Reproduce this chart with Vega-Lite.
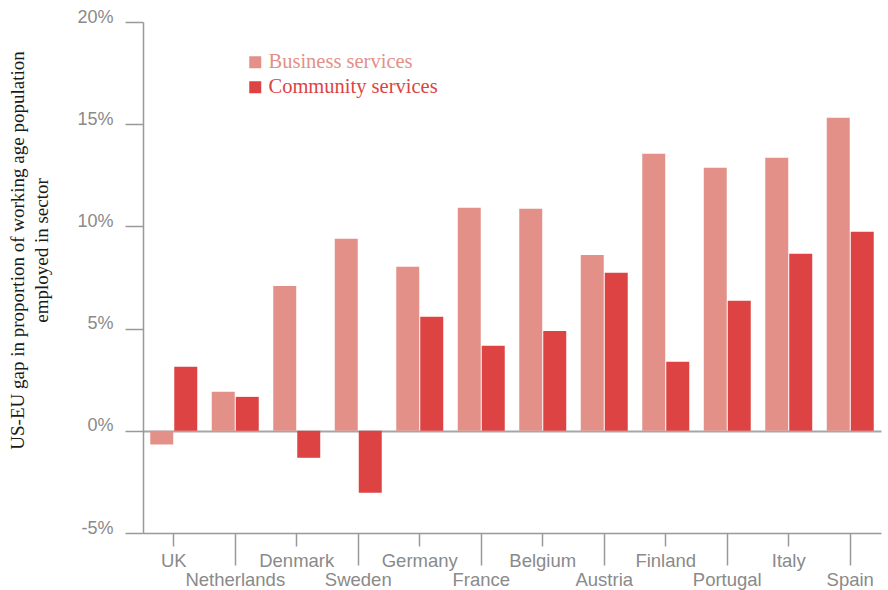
{
  "$schema": "https://vega.github.io/schema/vega-lite/v6.json",
  "width": 738,
  "height": 511,
  "autosize": {"type": "none"},
  "padding": {"left": 143, "top": 22, "right": 7, "bottom": 57},
  "background": "white",
  "config": {"view": {"stroke": null}},
  "data": {
    "values": [
      {"country": "UK", "sector": "Business services", "gap": -0.67},
      {"country": "UK", "sector": "Community services", "gap": 3.13},
      {"country": "Netherlands", "sector": "Business services", "gap": 1.91},
      {"country": "Netherlands", "sector": "Community services", "gap": 1.66},
      {"country": "Denmark", "sector": "Business services", "gap": 7.09},
      {"country": "Denmark", "sector": "Community services", "gap": -1.32},
      {"country": "Sweden", "sector": "Business services", "gap": 9.39},
      {"country": "Sweden", "sector": "Community services", "gap": -3.03},
      {"country": "Germany", "sector": "Business services", "gap": 8.02},
      {"country": "Germany", "sector": "Community services", "gap": 5.58},
      {"country": "France", "sector": "Business services", "gap": 10.91},
      {"country": "France", "sector": "Community services", "gap": 4.16},
      {"country": "Belgium", "sector": "Business services", "gap": 10.86},
      {"country": "Belgium", "sector": "Community services", "gap": 4.88},
      {"country": "Austria", "sector": "Business services", "gap": 8.6},
      {"country": "Austria", "sector": "Community services", "gap": 7.73},
      {"country": "Finland", "sector": "Business services", "gap": 13.55},
      {"country": "Finland", "sector": "Community services", "gap": 3.38},
      {"country": "Portugal", "sector": "Business services", "gap": 12.87},
      {"country": "Portugal", "sector": "Community services", "gap": 6.36},
      {"country": "Italy", "sector": "Business services", "gap": 13.36},
      {"country": "Italy", "sector": "Community services", "gap": 8.66},
      {"country": "Spain", "sector": "Business services", "gap": 15.31},
      {"country": "Spain", "sector": "Community services", "gap": 9.74}
    ]
  },
  "mark": {"type": "bar"},
  "encoding": {
    "x": {
      "field": "country",
      "type": "nominal",
      "sort": null,
      "scale": {"paddingInner": 0.236, "paddingOuter": 0.118},
      "axis": {
        "title": null,
        "labelAngle": 0,
        "domainColor": "#999999",
        "domainWidth": 1.5,
        "tickColor": "#999999",
        "tickWidth": 1.5,
        "tickSize": {"condition": {"test": "indexof(['Netherlands','Sweden','France','Austria','Portugal','Spain'], datum.value) >= 0", "value": 32}, "value": 13},
        "labelPadding": 20,
        "labelBaseline": "alphabetic",
        "labelFont": "Liberation Sans",
        "labelFontSize": 18.5,
        "labelColor": "#8a8a8a",
        "labelOverlap": false,
        "labelBound": false
      }
    },
    "xOffset": {
      "field": "sector",
      "sort": ["Business services", "Community services"],
      "scale": {"paddingInner": 0.042, "paddingOuter": 0}
    },
    "y": {
      "field": "gap",
      "type": "quantitative",
      "scale": {"domain": [-5, 20], "nice": false, "zero": false},
      "axis": {
        "values": [-5, 0, 5, 10, 15, 20],
        "labelExpr": "datum.value + '%'",
        "grid": true,
        "gridColor": "#a6a6a6",
        "gridWidth": 2,
        "gridOpacity": {"condition": {"test": "datum.value === 0", "value": 1}, "value": 0},
        "domainColor": "#999999",
        "domainWidth": 1.5,
        "tickColor": "#999999",
        "tickWidth": 1.5,
        "tickSize": 18,
        "labelPadding": 12,
        "labelBaseline": "alphabetic",
        "labelFont": "Liberation Sans",
        "labelFontSize": 18,
        "labelColor": "#8a8a8a",
        "labelOverlap": false,
        "labelBound": false,
        "labelFlush": false,
        "title": ["US-EU gap in proportion of working age population", "employed in sector"],
        "titleFont": "Liberation Serif",
        "titleFontSize": 19,
        "titleFontWeight": "normal",
        "titleColor": "#1a1a1a",
        "titleLineHeight": 24,
        "titleAngle": -90,
        "titleBaseline": "middle",
        "titleAlign": "center",
        "titleAnchor": "middle",
        "titleX": -126,
        "titleY": 228
      }
    },
    "color": {
      "field": "sector",
      "type": "nominal",
      "scale": {"domain": ["Business services", "Community services"], "range": ["#e39088", "#dd4343"]},
      "legend": {
        "orient": "none",
        "legendX": 102,
        "legendY": 30,
        "title": null,
        "padding": 0,
        "symbolType": "square",
        "symbolSize": 144,
        "symbolStrokeWidth": 0,
        "symbolOpacity": 1,
        "labelFont": "Liberation Serif",
        "labelFontSize": 20.5,
        "labelOffset": 3,
        "labelLimit": 0,
        "rowPadding": 4,
        "encode": {"labels": {"update": {"fill": {"scale": "color", "field": "value"}}}}
      }
    }
  }
}
